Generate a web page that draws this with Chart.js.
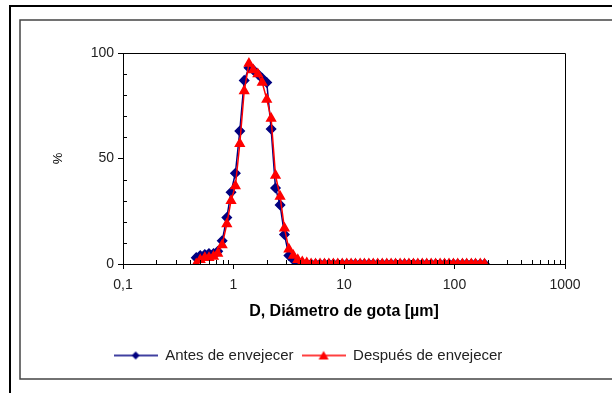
<!DOCTYPE html>
<html>
<head>
<meta charset="utf-8">
<script src="https://cdn.jsdelivr.net/npm/chart.js@4"></script>
<style>
  body { margin: 0; background: #fff; }
  canvas { display: block; }
</style>
</head>
<body>
<canvas id="grafico" width="612" height="393"></canvas>
<script>
// Diámetro de gota (µm) - mismas clases para las dos series
var diametros = [0.46, 0.50, 0.55, 0.60, 0.66, 0.72, 0.79, 0.87, 0.95, 1.04,
  1.14, 1.25, 1.38, 1.51, 1.66, 1.82, 2.00, 2.19, 2.40, 2.64,
  2.89, 3.17, 3.48, 3.82, 4.19, 4.60, 5.04, 5.53, 6.07, 6.66,
  7.30, 8.01, 8.79, 9.64, 10.6, 11.6, 12.7, 14.0, 15.3, 16.8,
  18.4, 20.2, 22.2, 24.4, 26.7, 29.3, 32.2, 35.3, 38.7, 42.5,
  46.6, 51.1, 56.1, 61.5, 67.5, 74.1, 81.3, 89.2, 97.8, 107,
  118, 129, 142, 155, 171, 187];

// % antes de envejecer
var antes = [3, 4, 4.5, 5, 5, 6, 11, 22, 34, 43,
  63, 87, 93, 92, 90, 88, 86, 64, 36, 28,
  14, 4, 2, 1, 0.5, 0, 0, 0, 0, 0,
  0, 0, 0, 0, 0, 0, 0, 0, 0, 0,
  0, 0, 0, 0, 0, 0, 0, 0, 0, 0,
  0, 0, 0, 0, 0, 0, 0, 0, 0, 0,
  0, 0, 0, 0, 0, 0];

// % después de envejecer
var despues = [0, 2, 3, 3, 3.5, 5, 9, 19, 30, 37,
  57, 82, 95, 92, 90, 86, 78, 69, 42, 32,
  17, 7, 4, 2, 1, 0.5, 0, 0, 0, 0,
  0, 0, 0, 0, 0, 0, 0, 0, 0, 0,
  0, 0, 0, 0, 0, 0, 0, 0, 0, 0,
  0, 0, 0, 0, 0, 0, 0, 0, 0, 0,
  0, 0, 0, 0, 0, 0];

var ticksX = [0.1, 1, 10, 100, 1000];
var ticksY = [0, 50, 100];

function puntos(valores) {
  return diametros.map(function (d, i) { return { x: d, y: valores[i] }; });
}

// Icono de la leyenda: línea con el marcador en el medio
function iconoLeyenda(color, forma) {
  var c = document.createElement('canvas');
  c.width = 44; c.height = 12;
  var g = c.getContext('2d');
  g.strokeStyle = color; g.fillStyle = color; g.lineWidth = 1.5;
  g.beginPath(); g.moveTo(0, 6); g.lineTo(44, 6); g.stroke();
  g.beginPath();
  if (forma === 'rombo') {
    g.moveTo(22, 2); g.lineTo(26, 6); g.lineTo(22, 10); g.lineTo(18, 6);
  } else {
    g.moveTo(22, 1.5); g.lineTo(27, 10); g.lineTo(17, 10);
  }
  g.closePath(); g.fill();
  return c;
}

// Marcos y marcas menores
var marcos = {
  id: 'marcos',
  afterDraw: function (chart) {
    var ctx = chart.ctx, a = chart.chartArea;
    var sx = chart.scales.x, sy = chart.scales.y;
    ctx.save();
    // marco exterior
    ctx.strokeStyle = '#000'; ctx.lineWidth = 2;
    ctx.beginPath(); ctx.moveTo(10, 393); ctx.lineTo(10, 6); ctx.lineTo(612, 6); ctx.stroke();
    // marco interior
    ctx.strokeStyle = '#444'; ctx.lineWidth = 1.5;
    ctx.beginPath(); ctx.moveTo(612, 20); ctx.lineTo(20, 20); ctx.lineTo(20, 379); ctx.lineTo(612, 379); ctx.stroke();
    // lados superior y derecho del área
    ctx.strokeStyle = '#000'; ctx.lineWidth = 1;
    ctx.beginPath(); ctx.moveTo(a.left, a.top + 0.5); ctx.lineTo(a.right + 0.5, a.top + 0.5); ctx.lineTo(a.right + 0.5, a.bottom); ctx.stroke();
    // marcas menores eje x
    ctx.beginPath();
    for (var dec = 0.1; dec < 1000; dec *= 10) {
      for (var k = 2; k <= 9; k++) {
        var px = Math.round(sx.getPixelForValue(dec * k)) + 0.5;
        ctx.moveTo(px, a.bottom); ctx.lineTo(px, a.bottom - 4);
      }
    }
    // marcas menores eje y
    for (var v = 10; v < 100; v += 10) {
      if (v === 50) continue;
      var py = Math.round(sy.getPixelForValue(v)) + 0.5;
      ctx.moveTo(a.left, py); ctx.lineTo(a.left + 4, py);
    }
    ctx.stroke();
    ctx.restore();
  }
};

var ctx = document.getElementById('grafico').getContext('2d');
var grafico = new Chart(ctx, {
  type: 'line',
  data: {
    datasets: [{
      label: 'Antes de envejecer',
      data: puntos(antes),
      borderColor: '#000080',
      backgroundColor: '#000080',
      borderWidth: 1.5,
      pointStyle: 'rectRot',
      pointRadius: 4.5,
      order: 2
    }, {
      label: 'Después de envejecer',
      data: puntos(despues),
      borderColor: '#ff0000',
      backgroundColor: '#ff0000',
      borderWidth: 1.5,
      pointStyle: 'triangle',
      pointRadius: 5,
      order: 1
    }]
  },
  options: {
    responsive: false,
    animation: false,
    layout: { padding: { left: 51, top: 53, right: 47, bottom: 20 } },
    plugins: {
      tooltip: { enabled: false },
      legend: {
        position: 'bottom',
        labels: {
          usePointStyle: true,
          pointStyleWidth: 44,
          color: '#222',
          font: { family: 'Liberation Sans', size: 15 },
          padding: 8,
          boxHeight: 12,
          sort: function (a, b) { return a.datasetIndex - b.datasetIndex; },
          generateLabels: function (chart) {
            var items = Chart.defaults.plugins.legend.labels.generateLabels(chart);
            items.forEach(function (it) {
              it.pointStyle = it.datasetIndex === 0
                ? iconoLeyenda('#000080', 'rombo')
                : iconoLeyenda('#ff0000', 'triangulo');
            });
            return items;
          }
        }
      }
    },
    scales: {
      x: {
        type: 'logarithmic',
        min: 0.1,
        max: 1000,
        afterBuildTicks: function (scale) {
          scale.ticks = ticksX.map(function (v) { return { value: v }; });
        },
        afterFit: function (scale) { scale.height = 76; },
        ticks: {
          color: '#222',
          font: { family: 'Liberation Sans', size: 14 },
          padding: 8,
          maxRotation: 0,
          callback: function (value) { return String(value).replace('.', ','); }
        },
        grid: { drawOnChartArea: false, color: '#000', tickLength: 5 },
        border: { color: '#000', width: 1 },
        title: {
          display: true,
          text: 'D, Diámetro de gota [µm]',
          color: '#000',
          font: { family: 'Liberation Sans', size: 16, weight: 'bold' },
          padding: { top: 6, bottom: 19 }
        }
      },
      y: {
        min: 0,
        max: 100,
        afterBuildTicks: function (scale) {
          scale.ticks = ticksY.map(function (v) { return { value: v }; });
        },
        afterFit: function (scale) { scale.width = 72; },
        ticks: {
          color: '#222',
          font: { family: 'Liberation Sans', size: 14 },
          padding: 4
        },
        grid: { drawOnChartArea: false, color: '#000', tickLength: 5 },
        border: { color: '#000', width: 1 },
        title: {
          display: true,
          text: '%',
          color: '#000',
          font: { family: 'Liberation Sans', size: 13 },
          padding: 0
        }
      }
    }
  },
  plugins: [marcos]
});
</script>
</body>
</html>
